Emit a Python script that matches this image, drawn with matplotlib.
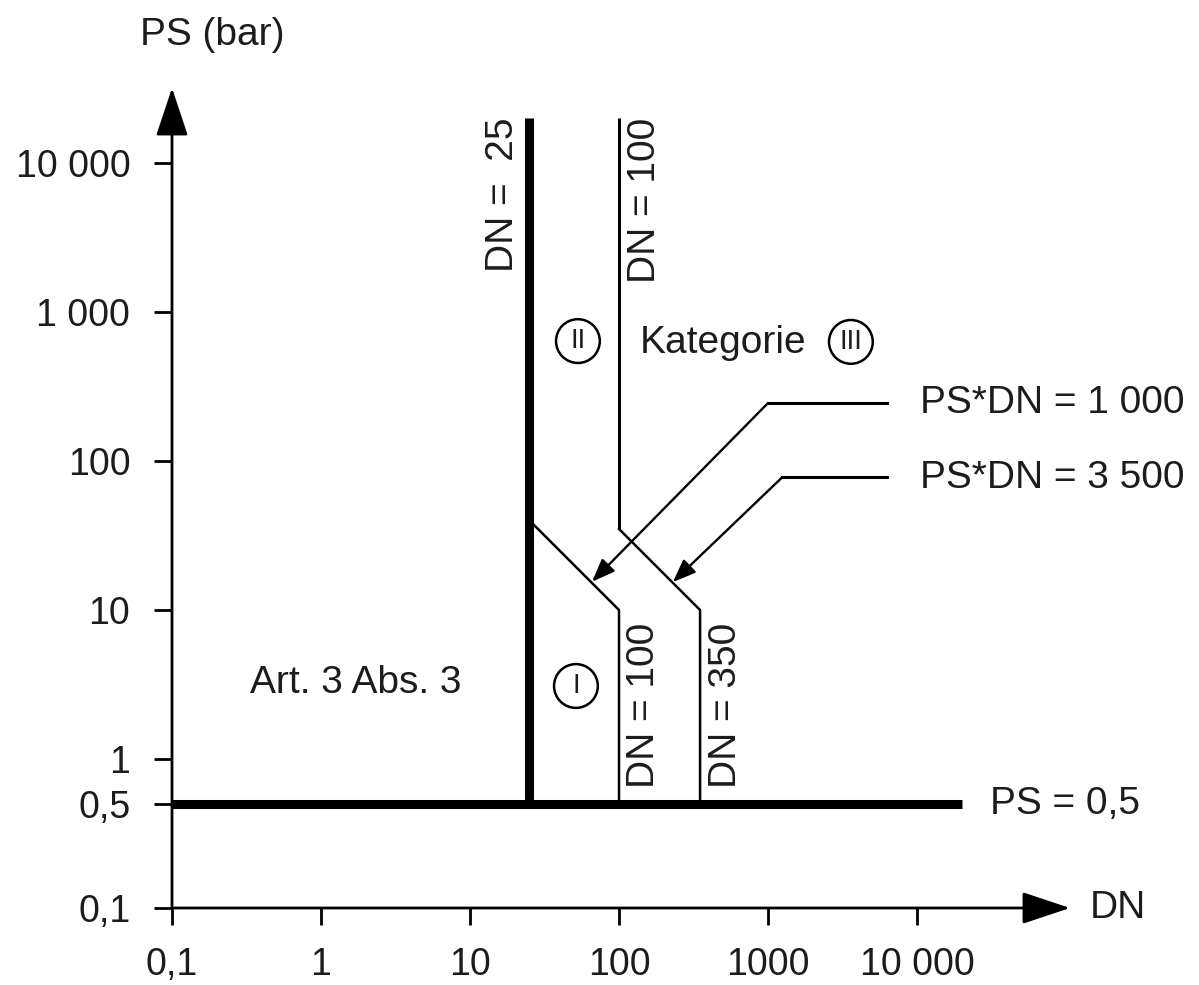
import matplotlib
matplotlib.use("Agg")
import matplotlib.pyplot as plt
import numpy as np

plt.rcParams['font.family'] = ['Liberation Sans', 'DejaVu Sans']

# ---- data ----
x_ticks = [0.1, 1, 10, 100, 1000, 10000]
x_tick_labels = ["0,1", "1", "10", "100", "1000", "10 000"]
y_ticks = [0.1, 0.5, 1, 10, 100, 1000, 10000]
y_tick_labels = ["0,1", "0,5", "1", "10", "100", "1 000", "10 000"]

# thick boundary lines
ps_limit_dn = [0.1, 20000]
ps_limit_ps = [0.5, 0.5]
dn25_dn = [25, 25]
dn25_ps = [0.5, 20000]

# thin boundary lines (category II/III)
dn100_top_dn = [100, 100]
dn100_top_ps = [35, 20000]
# PS*DN = 1000 then DN = 100
cat1_dn = [25, 100, 100]
cat1_ps = [40, 10, 0.5]
# PS*DN = 3500 then DN = 350
cat2_dn = [100, 350, 350]
cat2_ps = [35, 10, 0.5]

# annotation leaders: (label start, corner, tip)
lead1_dn = [6300, 1000]
lead1_ps = [245, 245]
tip1 = (66, 15.5)
lead2_dn = [6300, 1250]
lead2_ps = [78, 78]
tip2 = (230, 15.4)

txt = '#1c1c1c'

fig = plt.figure(figsize=(11.99, 9.85), dpi=100)
W, H = 1199, 985
L, R, T, B = 172, 1070, 88, 908
ax = fig.add_axes([L / W, (H - B) / H, (R - L) / W, (B - T) / H])
ax.set_xscale('log')
ax.set_yscale('log')
dec = 149.0
ax.set_xlim(0.1, 10 ** ((R - L) / dec - 1))
ax.set_ylim(0.1, 10 ** ((B - T) / dec - 1))

for s in ax.spines.values():
    s.set_visible(False)
ax.patch.set_visible(False)

ax.set_xticks(x_ticks)
ax.set_xticklabels(x_tick_labels)
ax.set_yticks(y_ticks)
ax.set_yticklabels(y_tick_labels)
ax.xaxis.set_minor_locator(matplotlib.ticker.NullLocator())
ax.yaxis.set_minor_locator(matplotlib.ticker.NullLocator())
ax.tick_params(axis='x', direction='out', length=12, width=2, pad=16,
               labelsize=27, labelcolor=txt)
ax.tick_params(axis='y', direction='out', length=13, width=2, pad=17,
               labelsize=27, labelcolor=txt)

# axes with arrows
ax.annotate('', xy=(1, 0), xytext=(0, 0), xycoords='axes fraction',
            arrowprops=dict(arrowstyle='-|>,head_length=3.0,head_width=1.0',
                            mutation_scale=10, lw=2, color='k',
                            shrinkA=0, shrinkB=0))
ax.annotate('', xy=(0, 1), xytext=(0, 0), xycoords='axes fraction',
            arrowprops=dict(arrowstyle='-|>,head_length=3.0,head_width=1.0',
                            mutation_scale=10, lw=2, color='k',
                            shrinkA=0, shrinkB=0))

# boundary lines
ax.plot(ps_limit_dn, ps_limit_ps, color='k', lw=6.5, solid_capstyle='butt')
ax.plot(dn25_dn, dn25_ps, color='k', lw=6.5, solid_capstyle='butt')
ax.plot(dn100_top_dn, dn100_top_ps, color='k', lw=2.2, solid_capstyle='butt')
ax.plot(cat1_dn, cat1_ps, color='k', lw=1.8)
ax.plot(cat2_dn, cat2_ps, color='k', lw=1.8)

# leaders with arrows
ax.plot(lead1_dn, lead1_ps, color='k', lw=2.2)
ax.annotate('', xy=tip1, xytext=(lead1_dn[1], lead1_ps[1]),
            arrowprops=dict(arrowstyle='-|>,head_length=1.4,head_width=0.55',
                            mutation_scale=10, lw=1.7, color='k',
                            shrinkA=0, shrinkB=0))
ax.plot(lead2_dn, lead2_ps, color='k', lw=2.2)
ax.annotate('', xy=tip2, xytext=(lead2_dn[1], lead2_ps[1]),
            arrowprops=dict(arrowstyle='-|>,head_length=1.4,head_width=0.55',
                            mutation_scale=10, lw=1.7, color='k',
                            shrinkA=0, shrinkB=0))

fs = 28
# texts
ax.text(16.7, 6100, "DN =  25", rotation=90, ha='center', va='center',
        fontsize=fs, color=txt)
ax.text(149, 5650, "DN = 100", rotation=90, ha='center', va='center',
        fontsize=fs, color=txt)
ax.text(147, 2.30, "DN = 100", rotation=90, ha='center', va='center',
        fontsize=fs, color=txt)
ax.text(522, 2.30, "DN = 350", rotation=90, ha='center', va='center',
        fontsize=fs, color=txt)
ax.text(138, 620, "Kategorie", ha='left', va='center', fontsize=fs, color=txt)
ax.text(0.334, 3.24, "Art. 3 Abs. 3", ha='left', va='center', fontsize=fs,
        color=txt)
ax.text(30900, 0.5, "PS = 0,5", ha='left', va='center', fontsize=fs, color=txt)
ax.text(10500, 245, "PS*DN = 1 000", ha='left', va='center', fontsize=fs,
        color=txt)
ax.text(10500, 77, "PS*DN = 3 500", ha='left', va='center', fontsize=fs,
        color=txt)
ax.text(145000, 0.1, "DN", ha='left', va='center', fontsize=fs, color=txt)
ax.text(0.1856, 72300, "PS (bar)", ha='center', va='center', fontsize=fs,
        color=txt)

circ = dict(boxstyle='circle,pad=0.32', fc='none', ec='k', lw=1.8)
ax.text(53, 638, "II", ha='center', va='center', fontsize=20, color=txt,
        bbox=circ)
ax.text(3600, 630, "III", ha='center', va='center', fontsize=20, color=txt,
        bbox=circ)
ax.text(51.4, 3.09, "I", ha='center', va='center', fontsize=20, color=txt,
        bbox=circ)

fig.savefig("out.png", dpi=100)
